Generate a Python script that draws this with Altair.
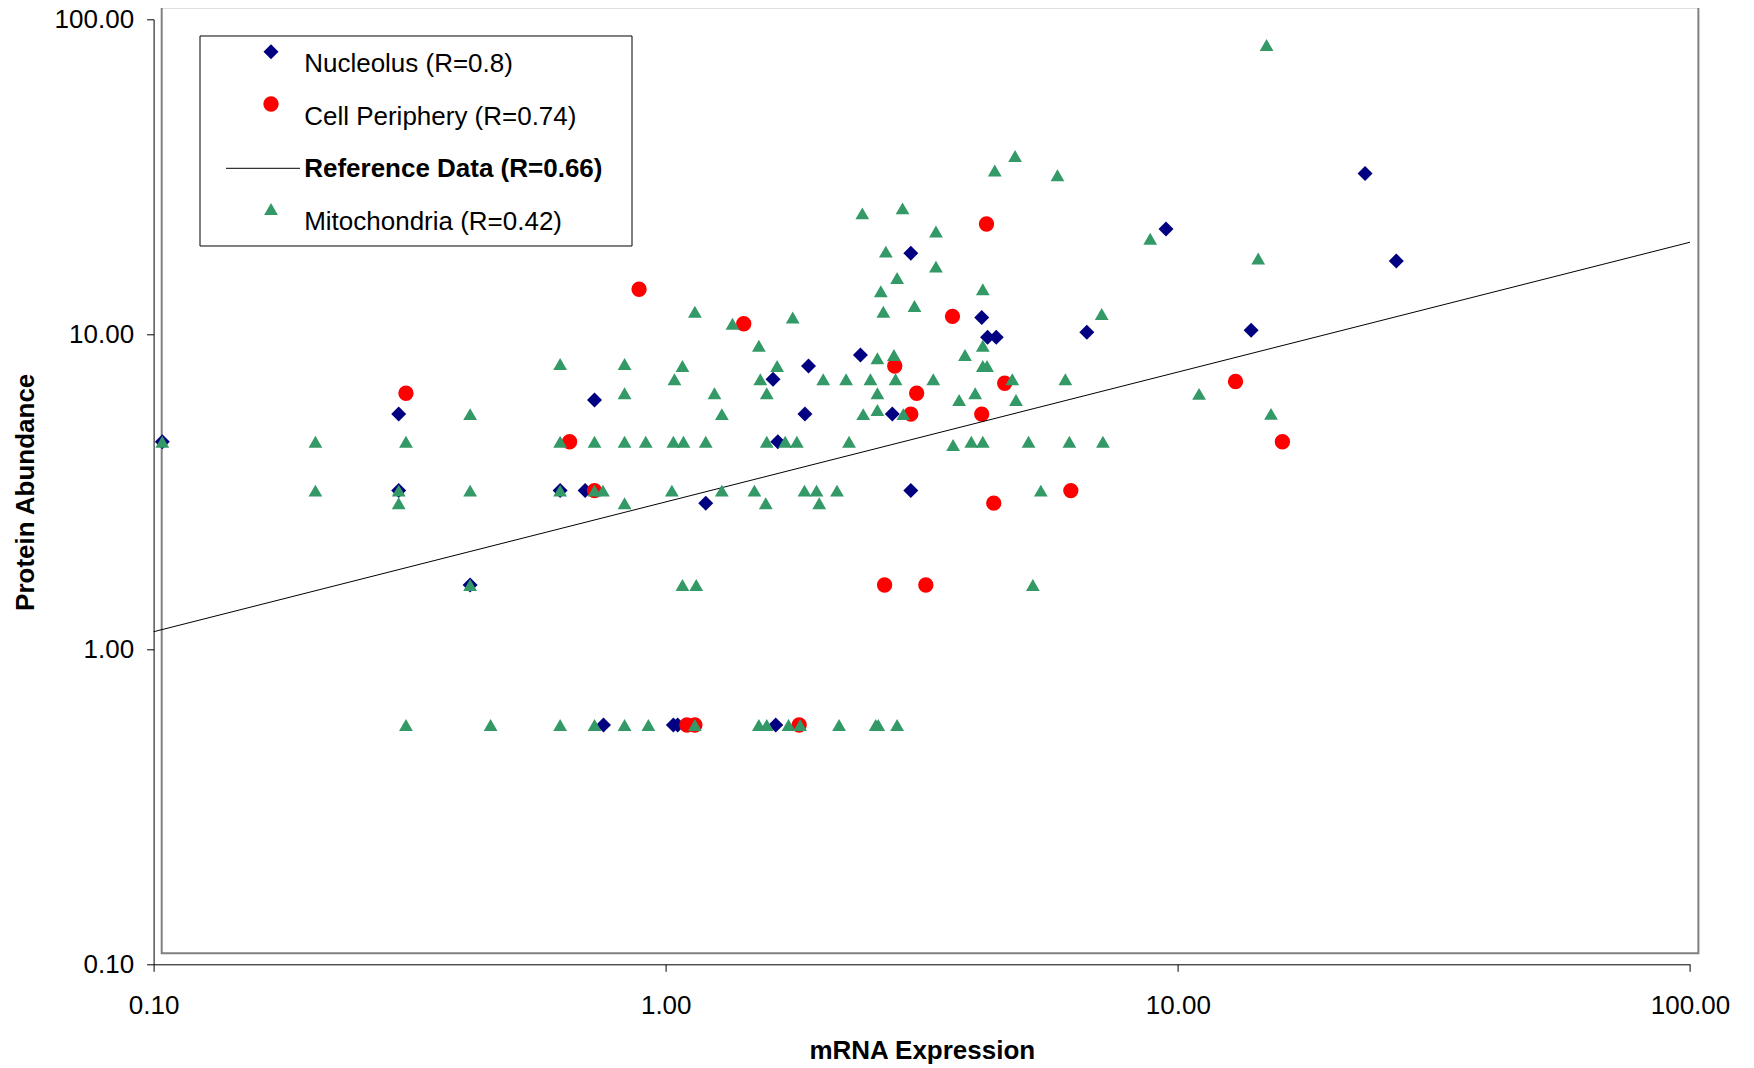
import altair as alt
import pandas as pd

# ---- data (log-log axes) ----
nuc_x = [0.104, 0.301, 0.301, 0.415, 0.622, 0.726, 0.696, 0.756, 1.035, 1.055,
         1.64, 1.197, 3.01, 1.655, 1.87, 2.77, 1.62, 1.90, 2.40, 3.01,
         4.14, 4.25, 4.42, 6.64, 9.48, 23.2, 26.7, 13.9]
nuc_y = [4.56, 5.58, 3.19, 1.60, 3.19, 6.19, 3.19, 0.575, 0.575, 0.575,
         0.575, 2.91, 3.19, 4.56, 5.58, 5.58, 7.2, 7.93, 8.6, 18.1,
         11.3, 9.78, 9.78, 10.15, 21.6, 32.4, 17.1, 10.3]

cell_x = [0.311, 0.649, 0.726, 0.887, 1.42, 1.10, 1.14, 1.822, 2.675, 3.22,
          4.37, 6.18, 3.01, 4.14, 3.09, 4.59, 2.80, 4.23, 3.63, 12.96, 16.0]
cell_y = [6.5, 4.56, 3.19, 13.9, 10.8, 0.575, 0.575, 0.575, 1.60, 1.60,
          2.91, 3.19, 5.58, 5.58, 6.5, 6.99, 7.93, 22.4, 11.4, 7.08, 4.56]

mito_x = [
    # row ~0.58
    0.311, 0.455, 0.622, 0.726, 0.831, 0.925, 1.14, 1.52, 1.575, 1.737, 1.83, 2.18, 2.57, 2.60, 2.83,
    # row ~1.6
    0.415, 1.078, 1.147, 5.21,
    # row ~2.9
    0.301, 0.831, 1.568, 1.994,
    # row ~3.2
    0.207, 0.301, 0.415, 0.622, 0.726, 0.754, 1.028, 1.287, 1.49, 1.866, 1.97, 2.16, 5.40,
    # row ~4.5
    0.104, 0.207, 0.311, 0.622, 0.726, 0.831, 0.914, 1.035, 1.083, 1.197, 1.575, 1.711,
    1.803, 2.28, 3.95, 4.16, 5.11, 6.14, 7.14, 3.64,
    # row ~5.6
    0.415, 1.287, 2.43, 2.91, 15.2, 2.59,
    # row ~6.2-6.5
    0.831, 1.245, 1.575, 2.59, 3.74, 4.02, 4.83, 11.0,
    # row ~7.2
    1.04, 1.53, 2.03, 2.25, 2.51, 2.81, 3.33, 4.75, 6.03,
    # row ~8
    0.622, 0.831, 1.078, 1.65, 4.16, 4.24,
    # row ~8.5
    2.59, 2.79, 3.84,
    # row ~9.2
    1.52, 4.16,
    # upper
    1.14, 1.35, 1.77, 2.42, 2.90, 3.37, 4.39, 4.81, 5.82, 2.69,
    3.37, 2.83, 2.63, 2.66, 3.06, 4.16, 7.1, 14.9, 8.83, 14.35,
]
mito_y = [
    0.575, 0.575, 0.575, 0.575, 0.575, 0.575, 0.575, 0.575, 0.575, 0.575, 0.575, 0.575, 0.575, 0.575, 0.575,
    1.60, 1.60, 1.60, 1.60,
    2.91, 2.91, 2.91, 2.91,
    3.19, 3.19, 3.19, 3.19, 3.19, 3.19, 3.19, 3.19, 3.19, 3.19, 3.19, 3.19, 3.19,
    4.56, 4.56, 4.56, 4.56, 4.56, 4.56, 4.56, 4.56, 4.56, 4.56, 4.56, 4.56,
    4.56, 4.56, 4.56, 4.56, 4.56, 4.56, 4.56, 4.45,
    5.58, 5.58, 5.58, 5.58, 5.59, 5.75,
    6.5, 6.5, 6.5, 6.5, 6.19, 6.5, 6.19, 6.47,
    7.2, 7.2, 7.2, 7.2, 7.2, 7.2, 7.2, 7.2, 7.2,
    8.05, 8.05, 7.93, 7.93, 7.93, 7.93,
    8.39, 8.6, 8.6,
    9.2, 9.2,
    11.8, 10.8, 11.3, 24.2, 25.1, 21.2, 33.1, 36.8, 32.0, 18.3,
    16.4, 15.1, 13.7, 11.8, 12.3, 13.9, 11.6, 82.9, 20.1, 17.4,
]

ref_x = [0.1, 100.0]
ref_y = [1.137, 19.6]

legend_labels = ["Nucleolus (R=0.8)", "Cell Periphery (R=0.74)",
                 "Reference Data (R=0.66)", "Mitochondria (R=0.42)"]
tick_values = [0.1, 1, 10, 100]

# ---- styling ----
F = "Liberation Sans"
W, H = 1536.4, 945
NAVY, RED, GREEN = "#000080", "#FF0000", "#339966"

nuc = pd.DataFrame({"x": nuc_x, "y": nuc_y})
cell = pd.DataFrame({"x": cell_x, "y": cell_y})
mito = pd.DataFrame({"x": mito_x, "y": mito_y})
ref = pd.DataFrame({"x": ref_x, "y": ref_y})

xs = alt.Scale(type="log", domain=[0.1, 100])
ys = alt.Scale(type="log", domain=[0.1, 100])

common_axis = dict(
    values=tick_values, format=".2f", grid=False,
    domainColor="black", domainWidth=1, tickColor="black", tickWidth=1, tickSize=7,
    labelFont=F, labelFontSize=26, labelColor="black",
    labelOverlap=False, labelFlush=False, labelBound=False,
    titleFont=F, titleFontSize=26, titleFontWeight="bold", titleColor="black",
)
x_axis = alt.Axis(title="mRNA Expression", labelPadding=21.5, labelBaseline="top",
                  titleX=W / 2, titleY=94.7, titleAlign="center",
                  titleBaseline="alphabetic", **common_axis)
y_axis = alt.Axis(title="Protein Abundance", labelPadding=13, labelAlign="right",
                  labelBaseline="middle", titleX=-120.3, titleY=H / 2,
                  titleAngle=270, titleAlign="center", titleBaseline="alphabetic",
                  **common_axis)


def xy():
    return dict(x=alt.X("x:Q", scale=xs, axis=x_axis),
                y=alt.Y("y:Q", scale=ys, axis=y_axis))


one = pd.DataFrame({"a": [0]})

frame = alt.Chart(one).mark_rect(fill="white", stroke="#808080", strokeWidth=2).encode(
    x=alt.value(8.1), x2=alt.value(1544.8), y=alt.value(-12), y2=alt.value(934))

nuc_layer = alt.Chart(nuc).mark_point(shape="diamond", filled=True, size=225,
                                      color=NAVY, opacity=1).encode(**xy())
cell_layer = alt.Chart(cell).mark_point(shape="circle", filled=True, size=235,
                                        color=RED, opacity=1).encode(**xy())
ref_layer = alt.Chart(ref).mark_line(color="black", strokeWidth=1).encode(**xy())
mito_layer = alt.Chart(mito).mark_point(shape="triangle-up", filled=True, size=190,
                                        color=GREEN, opacity=1).encode(**xy())

# ---- legend (drawn by hand, Excel style) ----
leg_box = alt.Chart(one).mark_rect(fill="white", stroke="black", strokeWidth=1).encode(
    x=alt.value(46.4), x2=alt.value(478.4), y=alt.value(16.7), y2=alt.value(226.7))
leg_nuc = alt.Chart(one).mark_point(shape="diamond", filled=True, size=225, color=NAVY,
                                    opacity=1).encode(x=alt.value(117.4), y=alt.value(32.4))
leg_cell = alt.Chart(one).mark_point(shape="circle", filled=True, size=235, color=RED,
                                     opacity=1).encode(x=alt.value(117.4), y=alt.value(84.7))
leg_line = alt.Chart(one).mark_rule(color="black", strokeWidth=1).encode(
    x=alt.value(72.4), x2=alt.value(146.4), y=alt.value(149))
leg_mito = alt.Chart(one).mark_point(shape="triangle-up", filled=True, size=190, color=GREEN,
                                     opacity=1).encode(x=alt.value(117.4), y=alt.value(189.7))

text_y = [52.4, 105.7, 157.4, 210.7]
leg_texts = []
for i, lab in enumerate(legend_labels):
    leg_texts.append(
        alt.Chart(pd.DataFrame({"label": [lab]})).mark_text(
            align="left", baseline="alphabetic", font=F, fontSize=26, color="black",
            fontWeight="bold" if i == 2 else "normal",
        ).encode(text="label:N", x=alt.value(150.6), y=alt.value(text_y[i]))
    )

chart = alt.layer(
    frame, nuc_layer, cell_layer, ref_layer, mito_layer,
    leg_box, leg_nuc, leg_cell, leg_line, leg_mito, *leg_texts,
).properties(
    width=W, height=H,
    autosize=alt.AutoSizeParams(type="none"),
    padding={"left": 145.6, "top": 11.3, "right": 50, "bottom": 104},
).configure_view(stroke="transparent")

chart.save("out.html", embed_options={"renderer": "svg", "actions": False})
